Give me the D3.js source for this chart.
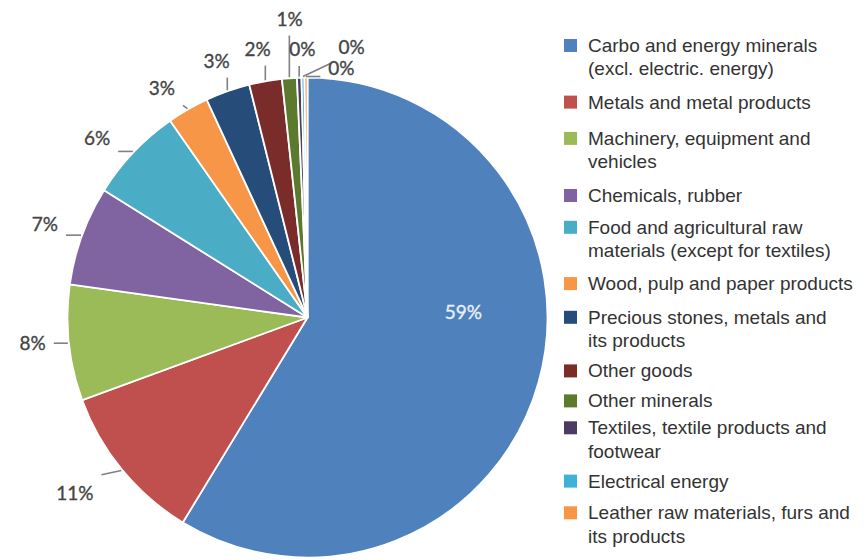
<!DOCTYPE html>
<html><head><meta charset="utf-8">
<script src="https://cdn.jsdelivr.net/npm/d3@7"></script>
<style>body{margin:0;background:#fff;} svg{display:block;}</style>
</head><body><svg id="c" width="867" height="560"></svg>
<script>
const categories = [
  "Carbo and energy minerals\n(excl. electric. energy)",
  "Metals and metal products",
  "Machinery, equipment and\nvehicles",
  "Chemicals, rubber",
  "Food and agricultural raw\nmaterials (except for textiles)",
  "Wood, pulp and paper products",
  "Precious stones, metals and\nits products",
  "Other goods",
  "Other minerals",
  "Textiles, textile products and\nfootwear",
  "Electrical energy",
  "Leather raw materials, furs and\nits products"
];
const values = [58.7, 10.7, 7.8, 6.7, 6.4, 2.8, 3.0, 2.2, 1.0, 0.3, 0.2, 0.2];
const colors = ["#4F81BD","#C0504D","#9BBB59","#8064A2","#4BACC6","#F79646",
                "#264D7A","#7A2C2A","#5B7A2E","#4D3B62","#3FB0D6","#F79646"];
// label placement nudges: [radial offset from pie edge (px), angular shift (deg)]
const labelNudge = [[-84,-18],[51,2.5],[36,0.9],[39,-0.3],[37,-3],[32,-2.5],
                    [33,0],[34,-0.4],[60,0.9],[29,0.9],[35,10.3],[12,8.1]];
// legend spacing after each entry (px)
const legendGap = [10, 13, 10.5, 8.5, 9.7, 10.4, 7, 6.7, 3.6, 6.7, 8.4, 0];

const svg = d3.select("#c");
const cx = 307.5, cy = 317.5, R = 240;
const total = d3.sum(values);
const fmt = d3.format(".0%");

const pie = d3.pie().sort(null).value(d => d);
const arcs = pie(values);
const arc = d3.arc().innerRadius(0).outerRadius(R);
const g = svg.append("g").attr("transform", `translate(${cx},${cy})`);

g.selectAll("path.slice").data(arcs).join("path")
  .attr("class","slice")
  .attr("d", arc)
  .attr("fill", (d,i) => colors[i])
  .attr("stroke", "#fff")
  .attr("stroke-width", 1.8)
  .attr("stroke-linejoin","round");

const polar = (a, r) => [r*Math.sin(a), -r*Math.cos(a)];

const lineG = g.append("g");
const labG = g.append("g");
arcs.forEach((d,i) => {
  const mid = (d.startAngle + d.endAngle)/2;
  const [ro, da] = labelNudge[i];
  const p = polar(mid + da*Math.PI/180, R + ro);
  const t = labG.append("text")
    .attr("x", p[0]).attr("y", p[1])
    .attr("text-anchor","middle")
    .attr("dominant-baseline","central")
    .attr("font-family","Lato, 'Open Sans', sans-serif")
    .attr("font-size", 19)
    .attr("fill", i === 0 ? "#e8f0fa" : "#454545")
    .attr("stroke", i === 0 ? "#e8f0fa" : "#454545")
    .attr("stroke-width", 0.35)
    .text(fmt(d.value/total));
  if (i > 0) {
    const bb = t.node().getBBox();
    const e = polar(mid, R + 1);
    const pad = 8;
    const x0 = bb.x - pad, x1 = bb.x + bb.width + pad, y0 = bb.y + 2 - pad, y1 = bb.y + bb.height - 2 + pad;
    const nx = Math.max(x0, Math.min(x1, e[0]));
    const ny = Math.max(y0, Math.min(y1, e[1]));
    lineG.append("line")
      .attr("x1", e[0]).attr("y1", e[1])
      .attr("x2", nx).attr("y2", ny)
      .attr("stroke", "#808080").attr("stroke-width", 1.6);
  }
});

// legend
const lx = 564, ly = 45.5, LH = 23.3, SW = 13;
const lg = svg.append("g");
let y = ly;
categories.forEach((c,i) => {
  const lines = c.split("\n");
  lg.append("rect").attr("x", lx).attr("y", y - SW/2).attr("width", SW).attr("height", SW)
    .attr("fill", colors[i]);
  const t = lg.append("text")
    .attr("font-family","'Liberation Sans', Arial, sans-serif")
    .attr("font-size", 19)
    .attr("fill", "#333");
  lines.forEach((ln, k) => {
    t.append("tspan").attr("x", lx + 24).attr("y", y + k*LH)
      .attr("dominant-baseline","central").text(ln);
  });
  y += lines.length*LH + legendGap[i];
});
</script></body></html>
